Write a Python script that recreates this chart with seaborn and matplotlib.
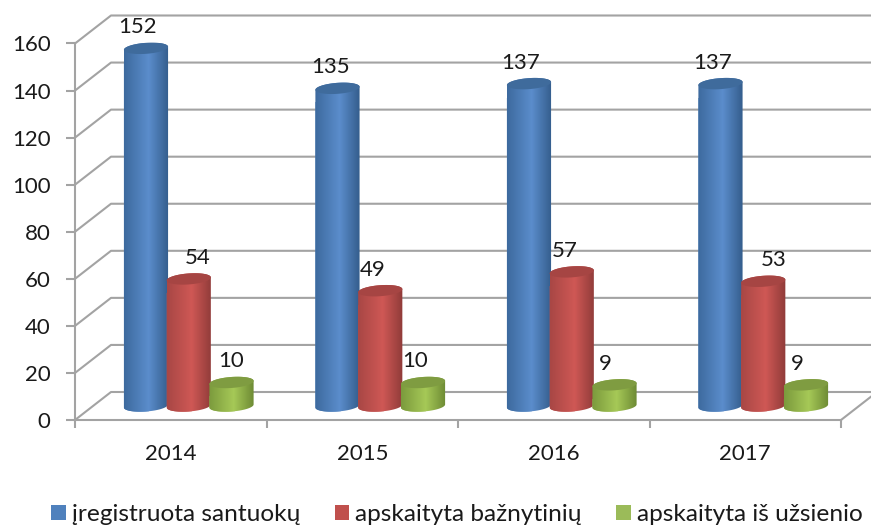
import numpy as np
import pandas as pd
import matplotlib
matplotlib.use("Agg")
import matplotlib.pyplot as plt
import seaborn as sns
from matplotlib.colors import LinearSegmentedColormap
from matplotlib.lines import Line2D
from matplotlib.path import Path
from matplotlib.patches import PathPatch
from matplotlib.transforms import Affine2D, IdentityTransform

years = ["2014", "2015", "2016", "2017"]
series_names = ["įregistruota santuokų", "apskaityta bažnytinių", "apskaityta iš užsienio"]
registered = [152, 135, 137, 137]
church = [54, 49, 57, 53]
abroad = [10, 10, 9, 9]
y_ticks = [0, 20, 40, 60, 80, 100, 120, 140, 160]

legend_colors = ["#4f81bd", "#c0504d", "#9bbb59"]
dark_left = ["#3d6a9e", "#a84745", "#7b9a3d"]
light_mid = ["#5b8dcc", "#cf5855", "#a6c957"]
dark_right = ["#345d8c", "#8f3b39", "#6d8a34"]
top_colors = ["#3f6b9c", "#a64543", "#7f9c41"]
label_dx = [[-8, -7, -8, -8], [9, -8, -7, 10], [0, -8, -9, -9]]

plt.rcParams["font.family"] = ["Lato", "DejaVu Sans"]
TEXT = "#1a1a1a"
GRID = "#a3a3a3"
W, H = 871, 526
DEPTH_X, DEPTH_Y = 36, 28

df = pd.DataFrame({
    "year": years * 3,
    "series": sum([[s] * 4 for s in series_names], []),
    "value": registered + church + abroad,
})

fig = plt.figure(figsize=(W / 100, H / 100), dpi=100, facecolor="white")
ax = fig.add_axes([75 / W, (H - 420) / H, (841 - 75) / W, (420 - 43.5) / H])
sns.barplot(data=df, x="year", y="value", hue="series", order=years, hue_order=series_names,
            palette=legend_colors, width=0.67, gap=0, dodge=True, saturation=1, ax=ax, legend=True)
ax.set_xlim(-0.5, 3.5)
ax.set_ylim(0, 160)
ax.set_facecolor("none")
ax.set_xlabel("")
ax.set_ylabel("")
ax.set_yticks(y_ticks)
ax.set_xticks(np.arange(-0.5, 4.0, 1.0), minor=True)
ax.tick_params(axis="y", length=6.5, width=1.5, color=GRID, pad=11, labelsize=16, labelcolor=TEXT)
ax.tick_params(axis="x", which="major", length=0, pad=17.5, labelsize=16, labelcolor=TEXT)
ax.tick_params(axis="x", which="minor", length=6, width=1.5, color=GRID)
for s in ("top", "right"):
    ax.spines[s].set_visible(False)
for s in ("left", "bottom"):
    ax.spines[s].set_color(GRID)
    ax.spines[s].set_linewidth(1.5)

handles, labels = ax.get_legend_handles_labels()
ax.get_legend().remove()
fig.legend(handles, labels, ncol=3, frameon=False, loc="lower left", bbox_to_anchor=(51 / W, 1 / H),
           borderaxespad=0, borderpad=0, fontsize=17.6, labelcolor=TEXT, handlelength=0.6, handleheight=0.6,
           handletextpad=0.25, columnspacing=1.41)

# Walls of the pseudo-3D box, derived from the axes' own scale
identity = IdentityTransform()
for v in y_ticks:
    x0, y0 = ax.transData.transform((-0.5, v))
    ax.add_line(Line2D([x0, x0 + DEPTH_X, W + 5], [y0, y0 + DEPTH_Y, y0 + DEPTH_Y], transform=identity,
                       color=GRID, lw=1.5, zorder=0.5, clip_on=False))
x_end, y_end = ax.transData.transform((3.5, 0))
ax.add_line(Line2D([x_end, x_end + DEPTH_X], [y_end, y_end + DEPTH_Y], transform=identity,
                   color=GRID, lw=1.5, zorder=0.5, clip_on=False))

# Cylinders: seaborn's bars shifted to mid-depth, shaded and capped
mid = ax.transData + Affine2D().translate(DEPTH_X / 2, DEPTH_Y / 2)
CAP_B, TILT = 5.5, 0.07
theta = np.linspace(0, 2 * np.pi, 81)
z = 3
for i, container in enumerate(ax.containers):
    cmap = LinearSegmentedColormap.from_list("c", [(0, dark_left[i]), (0.55, light_mid[i]), (1, dark_right[i])])
    for j, bar in enumerate(container):
        bx, bw, bh = bar.get_x(), bar.get_width(), bar.get_height()
        (x0, y0), (x1, y1) = mid.transform([(bx, 0), (bx + bw, bh)])
        xc, a = (x0 + x1) / 2, (x1 - x0) / 2 + 0.7
        lower = np.linspace(np.pi, 2 * np.pi, 41)
        upper = np.linspace(0, np.pi, 41)
        xb = xc + a * np.cos(lower)
        yb = y0 + CAP_B * np.sin(lower) + TILT * (xb - xc)
        xt = xc + a * np.cos(upper)
        yt = y1 + CAP_B * np.sin(upper) + TILT * (xt - xc)
        body = Path(np.column_stack([np.r_[xb, xt], np.r_[yb, yt]]))
        bar.set_zorder(z)
        bar.set_clip_path(body, identity)
        grad = np.linspace(0, 1, 128)[None, :]
        im = ax.imshow(grad, cmap=cmap, aspect="auto", origin="lower", interpolation="bilinear",
                       extent=(xc - a, xc + a, y0 - 12, y1 + 12), transform=identity, zorder=z + 0.1)
        im.set_clip_path(body, identity)
        xe = xc + a * np.cos(theta)
        ye = y1 + CAP_B * np.sin(theta) + TILT * (xe - xc)
        ax.add_patch(PathPatch(Path(np.column_stack([xe, ye])), transform=identity, facecolor=top_colors[i],
                               edgecolor="none", zorder=z + 0.2, clip_on=False))
        ax.annotate(str(int(bh)), xy=(bx + bw / 2, bh), xycoords=mid,
                    xytext=(label_dx[i][j] * 0.72, 21 * 0.72), textcoords="offset points",
                    ha="center", va="center", fontsize=16, color=TEXT, zorder=20)
    z += 1

ax.set_xlim(-0.5, 3.5)
ax.set_ylim(0, 160)
fig.savefig("out.png", dpi=100, facecolor="white")
